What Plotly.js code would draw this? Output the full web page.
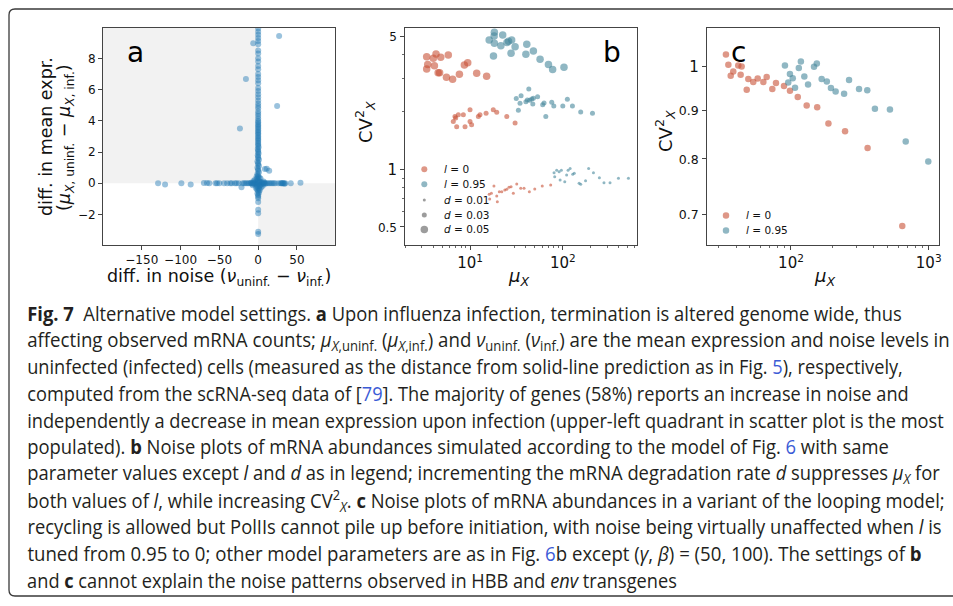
<!DOCTYPE html>
<html><head><meta charset="utf-8">
<script src="https://cdn.plot.ly/plotly-3.0.1.min.js"></script>
<style>html,body{margin:0;padding:0;background:#fff;}#chart{width:953px;height:606px;}</style>
</head><body><div id="chart"></div>
<script>
// ---------- Panel a data: diff. in noise (x) vs diff. in mean expr. (y) ----------
const vertNoise = [0,0,0,0,0, 0,0,0,-1,1, 0,-1.5,1.5,0,-2, 2,0,0,-1,1, 0,-1.5,1.5,0,0, -1,1,0,0,-1,
  1,0,0,-1,1,0,0,-0.5,0.5,0, 0,-0.5,0.5,0,0,0,0,0,0,0, 0,0,0,0,0,0,0,0,0,0,
  0,0,0,0,0, 0,0,0,0,0, 0,0,0,0,0, 0,0,0,0,0, 0,0,0,0,0, 0,0,0];
const vertMean = [-3.25,-3.1,-1.92,-1.7,-1.2, -0.95,-0.85,-0.75,-0.65,-0.6, -0.5,-0.4,-0.35,-0.3,-0.2,
  -0.15,-0.1,0,0.05,0.1, 0.2,0.3,0.35,0.4,0.5, 0.6,0.7,0.8,0.9,1.0,
  1.1,1.2,1.3,1.4,1.5,1.6,1.7,1.8,1.9,2.0, 2.1,2.2,2.3,2.4,2.5,2.6,2.7,2.8,2.9,3.0,
  3.1,3.2,3.3,3.4,3.5,3.6,3.7,3.8,3.9,4.0,
  4.15,4.3,4.45,4.6,4.8, 4.95,5.1,5.3,5.5,5.7, 5.9,6.1,6.4,6.6,6.8, 7.0,7.3,7.5,7.8,8.0, 8.3,8.5,8.9,9.1,9.3, 9.5,9.7,9.9];
const horizNoise = [-129,-120,-99,-87,-70, -66,-63,-55,-53,-50, -44,-40,-36,-34,-30, -28,-25,-21.5,-20,-18,
  -16,-14,-12,-10,-9, -8,-7,-6,-5,-4, -3,-2, 2,3,4,5,6, 7,8,9,10,12, 14,16,18,20,22, 26,29,30,31,32,
  33,34,35,42,54.5, -4,4,-3,3,-6, 6,-2,2,-7,7];
const horizMean = [0,-0.08,0,-0.08,0.02, 0.02,0,0,0,0, 0,0,0,0,0, 0,0,-0.26,0,0,
  0,0,0,0,0.03, -0.03,0,0.05,-0.05,0, 0.1,-0.1, 0.1,-0.1,0,0.05,-0.05, 0,0.03,-0.03,0,0, 0,0,0,0,0, 0,0,0,0,0,
  0,-0.03,0,0,0.03, 0.25,-0.25,-0.3,0.3,0.15, -0.15,0.45,-0.45,-0.12,0.12];
const offNoise = [-6.4,27,-15.8,24.4,-23.5,8.6,11,14.2];
const offMean = [8.96,9.43,6.67,4.95,3.5,0.92,0.93,0.81];
const aXTicks = [-150,-100,-50,0,50];
const aXTickText = ['\u2212150','\u2212100','\u221250','0','50'];
const aYTicks = [-2,0,2,4,6,8];
const aYTickText = ['\u22122','0','2','4','6','8'];

// ---------- Panel b data: mu_X vs CV^2_X ----------
const b_l0_d005_mu = [3.41,4.30,3.50,4.02,4.83,5.83,3.41,4.13,4.53,4.70,5.57,6.49,7.68,8.69,9.44,11.8,15.1];
const b_l0_d005_cv = [3.89,4.02,3.55,3.82,3.87,3.97,3.36,3.49,3.21,3.21,3.04,2.97,3.15,3.52,3.62,3.19,3.08];
const b_l095_d005_mu = [18.3,18.2,16.1,18.3,22.5,25.0,26.0,28.1,30.6,21.5,27.7,17.9,40.9,40.0,48.2,56.9,70.0,77.7,103];
const b_l095_d005_cv = [5.23,5.00,4.76,4.58,5.06,4.63,4.70,4.76,4.39,4.45,4.06,3.93,4.52,4.01,4.17,3.78,3.55,3.34,3.43];
const b_l0_d003_mu = [6.88,6.60,7.00,7.48,8.47,10.0,7.18,8.83,10.0,10.4,12.3,12.8,14.9,17.8,19.4,24.9,30.6];
const b_l0_d003_cv = [1.89,1.78,1.86,1.93,1.93,2.05,1.67,1.67,1.78,1.71,1.89,1.93,1.97,2.05,1.99,1.89,1.75];
const b_l095_d003_mu = [31.5,35.5,34.6,33.2,43.0,40.0,41.5,46.3,44.0,47.5,48.2,53.5,60.7,62.8,65.6,76.0,80.0,100,112,127,156,209];
const b_l095_d003_cv = [2.35,2.43,2.22,2.04,2.64,2.26,2.31,2.34,2.30,2.20,2.36,2.40,2.18,2.23,1.89,2.25,2.15,2.15,2.33,2.15,2.00,1.97];
const b_l0_d001_mu = [16.1,17.0,18.1,16.3,19.4,19.7,20.7,22.0,23.7,24.9,26.3,27.7,29.3,31.9,35.2,38.2,43.6,49.9,60.1,74.0];
const b_l0_d001_cv = [0.74,0.748,0.817,0.699,0.725,0.676,0.763,0.763,0.779,0.785,0.805,0.811,0.748,0.837,0.795,0.795,0.763,0.788,0.817,0.827];
const b_l095_d001_mu = [80.5,85.9,91.3,96.5,81.8,93.6,105,110,114,120,128,133,150,156,176,190,214,248,278,323,398,510];
const b_l095_d001_cv = [0.96,0.99,0.972,0.99,0.915,0.879,0.861,0.933,0.99,1.01,0.941,0.953,0.845,0.834,0.871,1.01,0.96,0.904,0.851,0.851,0.897,0.897];
const bXTicks = [10,100];
const bXTickText = ['10<sup>1</sup>','10<sup>2</sup>'];
const bXMinor = [2,3,4,5,6,7,8,9,20,30,40,50,60,70,80,90,200,300,400,500,600];
const bYTicks = [0.5,1,5];
const bYTickText = ['0.5','1','5'];
const bYMinor = [0.6,0.7,0.8,0.9,2,3,4];
const bLegendLabels = ['<i>l</i> = 0','<i>l</i> = 0.95','<i>d</i> = 0.01','<i>d</i> = 0.03','<i>d</i> = 0.05'];

// ---------- Panel c data ----------
const c_l0_mu = [33.7,35.1,36.5,38.1,41.4,43.8,43.1,47.7,49.0,53.2,57.3,63.0,66.6,73.2,77.8,89.0,98.3,112,130,155,187,247,360,643];
const c_l0_cv = [1.029,1.004,0.978,0.988,1.002,1.0,0.98,0.945,0.97,0.963,0.971,0.963,0.975,0.947,0.961,0.954,0.943,0.929,0.91,0.906,0.871,0.855,0.821,0.68];
const c_l095_mu = [90.4,98.3,103,95.5,107,114,118,125,133,147,154,167,182,195,211,243,264,312,358,407,523,681,993];
const c_l095_cv = [1.002,0.982,0.972,0.962,0.95,0.996,1.012,0.976,0.957,0.999,1.007,0.97,0.964,0.949,0.941,0.936,0.968,0.947,0.944,0.903,0.901,0.834,0.795];
const cXTicks = [100,1000];
const cXTickText = ['10<sup>2</sup>','10<sup>3</sup>'];
const cXMinor = [30,40,50,60,70,80,90,200,300,400,500,600,700,800,900];
const cYTicks = [0.7,0.8,0.9,1];
const cYTickText = ['0.7','0.8','0.9','1'];
const cLegendLabels = ['<i>l</i> = 0','<i>l</i> = 0.95'];

// ---------- Caption ----------
const LINK = '#3b5bd6';
const captionLines = [
  '<b>Fig. 7</b>\u00a0\u00a0Alternative model settings. <b>a</b> Upon influenza infection, termination is altered genome wide, thus',
  'affecting observed mRNA counts; <i>μ</i><sub><i>X</i>,uninf.</sub> (<i>μ</i><sub><i>X</i>,inf.</sub>) and <i>ν</i><sub>uninf.</sub> (<i>ν</i><sub>inf.</sub>) are the mean expression and noise levels in',
  'uninfected (infected) cells (measured as the distance from solid-line prediction as in Fig. <span style="color:'+LINK+'">5</span>), respectively,',
  'computed from the scRNA-seq data of [<span style="color:'+LINK+'">79</span>]. The majority of genes (58%) reports an increase in noise and',
  'independently a decrease in mean expression upon infection (upper-left quadrant in scatter plot is the most',
  'populated). <b>b</b> Noise plots of mRNA abundances simulated according to the model of Fig. <span style="color:'+LINK+'">6</span> with same',
  'parameter values except <i>l</i> and <i>d</i> as in legend; incrementing the mRNA degradation rate <i>d</i> suppresses <i>μ<sub>X</sub></i> for',
  'both values of <i>l</i>, while increasing CV<sup>2</sup><sub><i>X</i></sub>. <b>c</b> Noise plots of mRNA abundances in a variant of the looping model;',
  'recycling is allowed but PolIIs cannot pile up before initiation, with noise being virtually unaffected when <i>l</i> is',
  'tuned from 0.95 to 0; other model parameters are as in Fig. <span style="color:'+LINK+'">6</span>b except (<i>γ</i>, <i>β</i>) = (50, 100). The settings of <b>b</b>',
  'and <b>c</b> cannot explain the noise patterns observed in HBB and <i>env</i> transgenes'
];
const captionRightEdge = [901,949,902,908,943,888,939,944,941,921,676];

// ---------- helpers / styles ----------
const W = 953, H = 606;
const px = v => v / W;
const py = v => 1 - v / H;
const RED = 'rgba(200,82,55,0.6)';
const TEAL = 'rgba(70,135,155,0.6)';
const GRAY = 'rgba(90,90,90,0.6)';
const BLUE = 'rgba(31,119,180,0.45)';
const SZ = {d001: 3, d003: 5, d005: 7.5, c: 6.5, a: 6};

function sc(x, y, xa, ya, color, size) {
  return {type: 'scatter', mode: 'markers', x: x, y: y, xaxis: xa, yaxis: ya,
    marker: {color: color, size: size, line: {width: 0}}, showlegend: false, hoverinfo: 'skip'};
}

const data = [
  sc(horizNoise, horizMean, 'x', 'y', BLUE, SZ.a),
  sc(vertNoise, vertMean, 'x', 'y', BLUE, SZ.a),
  sc(offNoise, offMean, 'x', 'y', BLUE, SZ.a),
  sc(b_l0_d001_mu, b_l0_d001_cv, 'x2', 'y2', RED, SZ.d001),
  sc(b_l095_d001_mu, b_l095_d001_cv, 'x2', 'y2', TEAL, SZ.d001),
  sc(b_l0_d003_mu, b_l0_d003_cv, 'x2', 'y2', RED, SZ.d003),
  sc(b_l095_d003_mu, b_l095_d003_cv, 'x2', 'y2', TEAL, SZ.d003),
  sc(b_l0_d005_mu, b_l0_d005_cv, 'x2', 'y2', RED, SZ.d005),
  sc(b_l095_d005_mu, b_l095_d005_cv, 'x2', 'y2', TEAL, SZ.d005),
  sc(c_l0_mu, c_l0_cv, 'x3', 'y3', RED, SZ.c),
  sc(c_l095_mu, c_l095_cv, 'x3', 'y3', TEAL, SZ.c)
];

const TF = {family: 'DejaVu Sans', size: 12, color: '#111'};
const common = {showgrid: false, zeroline: false, showline: true, mirror: true, linecolor: '#444', linewidth: 1,
  ticks: 'outside', ticklen: 4, tickwidth: 1, tickcolor: '#444', tickfont: TF, fixedrange: true, tickmode: 'array'};
const minorCommon = {tickmode: 'array', ticks: 'outside', ticklen: 2, tickwidth: 0.8, tickcolor: '#444', showgrid: false};
const yDom = [py(245), py(28)];

const layout = {
  width: W, height: H, margin: {l: 0, r: 0, t: 0, b: 0}, showlegend: false,
  paper_bgcolor: '#fff', plot_bgcolor: '#fff', font: {family: 'DejaVu Sans', color: '#111'},
  xaxis: Object.assign({}, common, {domain: [px(103), px(335)], range: [-200, 99], anchor: 'y',
    tickvals: aXTicks, ticktext: aXTickText}),
  yaxis: Object.assign({}, common, {domain: yDom, range: [-3.95, 9.94], anchor: 'x',
    tickvals: aYTicks, ticktext: aYTickText}),
  xaxis2: Object.assign({}, common, {type: 'log', domain: [px(405), px(637)], range: [0.299, 2.80], anchor: 'y2',
    tickvals: bXTicks, ticktext: bXTickText, tickfont: Object.assign({}, TF, {size: 15}),
    minor: Object.assign({}, minorCommon, {tickvals: bXMinor})}),
  yaxis2: Object.assign({}, common, {type: 'log', domain: yDom, range: [-0.397, 0.741], anchor: 'x2',
    tickvals: bYTicks,
    ticktext: bYTickText.map(t => t === '1' ? t : '<span style="font-size:12px">' + t + '</span>'),
    tickfont: Object.assign({}, TF, {size: 15}),
    minor: Object.assign({}, minorCommon, {tickvals: bYMinor})}),
  xaxis3: Object.assign({}, common, {type: 'log', domain: [px(706.7), px(939.3)], range: [1.388, 3.077], anchor: 'y3',
    tickvals: cXTicks, ticktext: cXTickText, tickfont: Object.assign({}, TF, {size: 15}),
    minor: Object.assign({}, minorCommon, {tickvals: cXMinor})}),
  yaxis3: Object.assign({}, common, {type: 'log', domain: yDom, range: [-0.1873, 0.0403], anchor: 'x3',
    tickvals: cYTicks,
    ticktext: cYTickText.map(t => t === '1' ? t : '<span style="font-size:12.5px">' + t + '</span>'),
    tickfont: Object.assign({}, TF, {size: 15})}),
  shapes: [],
  annotations: []
};

// shaded quadrants (panel a)
layout.shapes.push({type: 'rect', xref: 'x', yref: 'y', x0: -200, x1: 0, y0: 0, y1: 9.94,
  fillcolor: '#f2f2f2', line: {width: 0}, layer: 'below'});
layout.shapes.push({type: 'rect', xref: 'x', yref: 'y', x0: 0, x1: 99, y0: -3.95, y1: 0,
  fillcolor: '#f2f2f2', line: {width: 0}, layer: 'below'});

// rounded figure frame
(function () {
  const L = 9, T = 9, R = 975, B = 596, r = 6;
  const p = (x, y) => px(x) + ',' + py(y);
  layout.shapes.push({type: 'path', xref: 'paper', yref: 'paper', layer: 'above',
    path: 'M' + p(L, T + r) + ' Q' + p(L, T) + ' ' + p(L + r, T) + ' L' + p(R, T) + ' L' + p(R, B) +
      ' L' + p(L + r, B) + ' Q' + p(L, B) + ' ' + p(L, B - r) + ' Z',
    line: {color: '#3a3a3a', width: 1.3}, fillcolor: 'rgba(0,0,0,0)'});
})();

function ann(text, x, y, opts) {
  layout.annotations.push(Object.assign({text: text, x: px(x), y: py(y), xref: 'paper', yref: 'paper',
    showarrow: false, xanchor: 'center', yanchor: 'middle',
    font: {family: 'DejaVu Sans', size: 17.5, color: '#111'}}, opts || {}));
  return layout.annotations.length - 1;
}

// panel letters
ann('a', 135, 52, {font: {family: 'DejaVu Sans', size: 28, color: '#000'}});
ann('b', 611.5, 52, {font: {family: 'DejaVu Sans', size: 28, color: '#000'}});
ann('c', 738, 52, {font: {family: 'DejaVu Sans', size: 28, color: '#000'}});

// axis titles
ann('diff. in mean expr.', 46, 137, {textangle: -90});
ann('(<i>μ</i><sub><i>X</i>, uninf.</sub> \u2212 <i>μ</i><sub><i>X</i>, inf.</sub>)', 65, 138, {textangle: -90});
ann('diff. in noise (<i>ν</i><sub>uninf.</sub> \u2212 <i>ν</i><sub>inf.</sub>)', 219, 277);
ann('<i>μ</i><sub><i>X</i></sub>', 518, 277, {font: {family: 'DejaVu Sans', size: 18, color: '#111'}});
ann('CV<sup>2</sup><sub><i>X</i></sub>', 365, 122, {textangle: -90, font: {family: 'DejaVu Sans', size: 18, color: '#111'}});
ann('<i>μ</i><sub><i>X</i></sub>', 824, 277, {font: {family: 'DejaVu Sans', size: 18, color: '#111'}});
ann('CV<sup>2</sup><sub><i>X</i></sub>', 665, 131, {textangle: -90, font: {family: 'DejaVu Sans', size: 18, color: '#111'}});

// legends (keys drawn as circles, labels as text)
function circ(cx, cy, d, color) {
  layout.shapes.push({type: 'circle', xref: 'paper', yref: 'paper', xsizemode: 'pixel', ysizemode: 'pixel',
    xanchor: px(cx), yanchor: py(cy), x0: -d / 2, x1: d / 2, y0: -d / 2, y1: d / 2,
    fillcolor: color, line: {width: 0}});
}
const bLegY = [169.3, 184.3, 200, 215, 229.5];
const bLegColor = [RED, TEAL, GRAY, GRAY, GRAY];
const bLegSize = [6, 6, SZ.d001, SZ.d003, SZ.d005];
bLegendLabels.forEach((t, i) => {
  circ(424.3, bLegY[i], bLegSize[i], bLegColor[i]);
  ann(t, 442, bLegY[i] - 0.5, {xanchor: 'left', font: {family: 'DejaVu Sans', size: 10.5, color: '#111'}});
});
const cLegY = [215.5, 230.5];
const cLegColor = [RED, TEAL];
cLegendLabels.forEach((t, i) => {
  circ(726, cLegY[i], 6.5, cLegColor[i]);
  ann(t, 743.5, cLegY[i] - 0.5, {xanchor: 'left', font: {family: 'DejaVu Sans', size: 10.5, color: '#111'}});
});

// caption lines
const captionTargets = {};
captionLines.forEach((t, i) => {
  const yc = 313.3 + 26.7 * i;
  const idx = ann(t, 25, yc, {xanchor: 'left',
    font: {family: 'Liberation Sans Narrow, Open Sans, sans-serif', size: 19.5, color: '#231f20'}});
  captionTargets[idx] = captionRightEdge[i] - 26;
});

Plotly.newPlot('chart', data, layout, {staticPlot: true, displayModeBar: false}).then(function (gd) {
  gd.querySelectorAll('g.annotation').forEach(function (g) {
    const idx = +g.getAttribute('data-index');
    const target = captionTargets[idx];
    if (!target) return;
    const t = g.querySelector('text.annotation-text');
    if (!t) return;
    const bb = t.getBBox();
    if (!bb.width) return;
    const s = target / bb.width;
    const prev = t.getAttribute('transform') || '';
    t.setAttribute('transform', prev + ' translate(' + bb.x + ',0) scale(' + s + ',1) translate(' + (-bb.x) + ',0)');
  });
});
</script>
</body></html>
